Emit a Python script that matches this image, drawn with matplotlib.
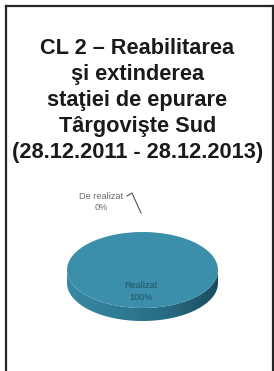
import numpy as np
import matplotlib
matplotlib.use("Agg")
import matplotlib.pyplot as plt
from matplotlib.lines import Line2D
from matplotlib.patches import Polygon

# ---- data ----
title_lines = ["CL 2 \u2013 Reabilitarea",
               "\u015fi extinderea",
               "sta\u0163iei de epurare",
               "T\u00e2rgovi\u015fte Sud",
               "(28.12.2011 - 28.12.2013)"]
categories = ["De realizat", "Realizat"]
values = [0, 100]
colors_top = ["#3C8FAA", "#3C8FAA"]

W, H = 274, 371
fig = plt.figure(figsize=(W / 100, H / 100), dpi=100)
fig.patch.set_facecolor("white")

def fx(x):
    return x / W

def fy(y):
    return 1 - y / H

# frame (left, top, right; bottom runs off the page)
frame_col = "#262626"
fig.add_artist(Line2D([fx(5.5), fx(5.5)], [fy(372), fy(5.5)], color=frame_col, lw=1.6,
                      transform=fig.transFigure, solid_capstyle="projecting"))
fig.add_artist(Line2D([fx(5.5), fx(272.5)], [fy(5.5), fy(5.5)], color=frame_col, lw=1.6,
                      transform=fig.transFigure, solid_capstyle="projecting"))
fig.add_artist(Line2D([fx(272.5), fx(272.5)], [fy(5.5), fy(372)], color=frame_col, lw=1.6,
                      transform=fig.transFigure, solid_capstyle="projecting"))

# title
base0, step = 54.5, 25.8
for i, line in enumerate(title_lines):
    fig.text(fx(137.5), fy(base0 + i * step), line, ha="center", va="baseline",
             fontsize=15.7, fontweight="bold", family="Liberation Sans", color="#1a1a1a")

# pie axes: top face centre (142.5, 270) px, semi axes 75.5 x 38 px
cx, cy, rx, ry = 142.5, 270.0, 75.5, 38.0
ylo, yhi = -1.45, 1.1
ax = fig.add_axes([fx(cx - rx), fy(cy - ylo * ry), 2 * rx / W, (yhi - ylo) * ry / H])
thick = 13.0 / ry

# side of the cylinder with a horizontal gradient
th = np.linspace(np.pi, 2 * np.pi, 200)
upper = np.column_stack([np.cos(th), np.sin(th)])
lower = np.column_stack([np.cos(th[::-1]), np.sin(th[::-1]) - thick])
side = Polygon(np.vstack([upper, lower]), closed=True, facecolor="none", edgecolor="none")
ax.add_patch(side)
grad_cols = matplotlib.colors.LinearSegmentedColormap.from_list(
    "side", ["#3A88A3", "#2F7C95", "#276B82", "#1B4C5E"])
grad = np.linspace(0, 1, 256)[None, :]
im = ax.imshow(grad, cmap=grad_cols, extent=[-1, 1, -1 - thick, 0], aspect="auto",
               zorder=1, interpolation="bilinear")
im.set_clip_path(side)

# top face
wedges, _ = ax.pie(values, colors=colors_top, startangle=90, counterclock=False,
                   radius=1.0, center=(0, 0), wedgeprops=dict(linewidth=0, zorder=2))
for w in wedges:
    w.set_zorder(2)

ax.set_aspect("auto")
ax.set_xlim(-1, 1)
ax.set_ylim(ylo, yhi)
ax.axis("off")

def dx(x):
    return (x - cx) / rx

def dy(y):
    return (cy - y) / ry

total = sum(values)
pcts = [v / total * 100 for v in values]

# label for the 0% slice with leader line
ax.text(dx(101), dy(202), f"{categories[0]}\n{pcts[0]:.0f}%", ha="center", va="center",
        fontsize=6.6, family="Liberation Sans", color="#6a6a6a", linespacing=1.25,
        clip_on=False)
ax.plot([dx(127), dx(132), dx(141)], [dy(196), dy(193), dy(213)], color="#555555",
        lw=0.8, clip_on=False)

# label for the 100% slice
ax.text(dx(141), dy(291.5), f"{categories[1]}\n{pcts[1]:.0f}%", ha="center", va="center",
        fontsize=6.6, family="Liberation Sans", color="#1E5566", linespacing=1.35,
        zorder=5)

fig.savefig("out.png", dpi=100, facecolor="white")
